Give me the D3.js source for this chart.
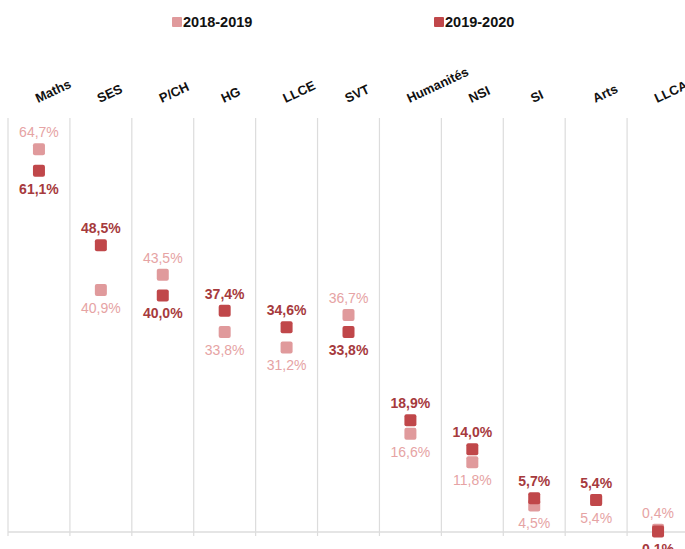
<!DOCTYPE html>
<html>
<head>
<meta charset="utf-8">
<script src="https://cdn.jsdelivr.net/npm/d3@7/dist/d3.min.js"></script>
<style>
  body { margin: 0; background: #fff; }
  svg { display: block; font-family: "Liberation Sans", Arial, sans-serif; }
</style>
</head>
<body>
<svg id="chart" width="685" height="549"></svg>
<script>
// categories and series
var subjects = ["Maths", "SES", "P/CH", "HG", "LLCE", "SVT", "Humanités", "NSI", "SI", "Arts", "LLCA"];
var values1819 = [64.7, 40.9, 43.5, 33.8, 31.2, 36.7, 16.6, 11.8, 4.5, 5.4, 0.4];
var values1920 = [61.1, 48.5, 40.0, 37.4, 34.6, 33.8, 18.9, 14.0, 5.7, 5.4, 0.1];
var seriesNames = ["2018-2019", "2019-2020"];

var width = 685, height = 549;
var colLight = "#e09a9c", colDark = "#c0474a";
var txtLight = "#e6a3a4", txtDark = "#a63a3d";

var svg = d3.select("#chart");

var x = d3.scaleBand()
  .domain(subjects)
  .range([8, 689]);

var y = d3.scaleLinear()
  .domain([0, 70])
  .range([532, 118]);

// grid lines (band edges)
var edges = subjects.map(d => x(d));
svg.append("g")
  .attr("class", "grid")
  .selectAll("line")
  .data(edges)
  .join("line")
    .attr("x1", d => d).attr("x2", d => d)
    .attr("y1", y(70)).attr("y2", y(0) + 4)
    .style("stroke", "#dcdcdc")
    .style("stroke-width", 1.2);

svg.append("line")
  .attr("x1", 8).attr("x2", width)
  .attr("y1", y(0)).attr("y2", y(0))
  .style("stroke", "#dcdcdc")
  .style("stroke-width", 1.5);

// rotated category labels on top
svg.append("g")
  .selectAll("text")
  .data(subjects)
  .join("text")
    .attr("transform", d => "translate(" + (x(d) + x.bandwidth() / 2 - 1) + ",103) rotate(-25)")
    .attr("text-anchor", "start")
    .style("font-size", "13px")
    .style("font-weight", "bold")
    .style("fill", "#111")
    .text(d => d);

// rows for the marks
var rows = subjects.map((s, i) => ({ s: s, a: values1819[i], b: values1920[i] }));

var sq = 12;
function cx(d) { return x(d.s) + x.bandwidth() / 2; }

// 2018-2019 squares
svg.append("g")
  .selectAll("rect")
  .data(rows)
  .join("rect")
    .attr("x", d => cx(d) - sq / 2)
    .attr("y", d => y(d.a) - sq / 2)
    .attr("width", sq).attr("height", sq)
    .attr("rx", 2)
    .style("fill", colLight);

// 2019-2020 squares
svg.append("g")
  .selectAll("rect")
  .data(rows)
  .join("rect")
    .attr("x", d => cx(d) - sq / 2)
    .attr("y", d => y(d.b) - sq / 2)
    .attr("width", sq).attr("height", sq)
    .attr("rx", 2)
    .style("fill", colDark);

function fmt(v) { return v.toFixed(1).replace(".", ",") + "%"; }

// labels: the higher value goes above, the other below
svg.append("g")
  .selectAll("text")
  .data(rows)
  .join("text")
    .attr("x", cx)
    .attr("y", d => d.a > d.b ? y(d.a) - 12 : y(d.a) + 23)
    .attr("text-anchor", "middle")
    .style("font-size", "14px")
    .style("fill", txtLight)
    .text(d => fmt(d.a));

svg.append("g")
  .selectAll("text")
  .data(rows)
  .join("text")
    .attr("x", cx)
    .attr("y", d => d.b >= d.a ? y(d.b) - 12 : y(d.b) + 23)
    .attr("text-anchor", "middle")
    .style("font-size", "14px")
    .style("font-weight", "bold")
    .style("fill", txtDark)
    .text(d => fmt(d.b));

// legend
var legendX = [172, 434];
var legend = svg.append("g")
  .selectAll("g")
  .data(seriesNames)
  .join("g")
    .attr("transform", (d, i) => "translate(" + legendX[i] + ",17)");

legend.append("rect")
  .attr("width", 10).attr("height", 10)
  .attr("rx", 1)
  .style("fill", (d, i) => i == 0 ? colLight : colDark);

legend.append("text")
  .attr("x", 11)
  .attr("y", 10)
  .style("font-size", "14.5px")
  .style("font-weight", "bold")
  .style("fill", "#111")
  .text(d => d);
</script>
</body>
</html>
